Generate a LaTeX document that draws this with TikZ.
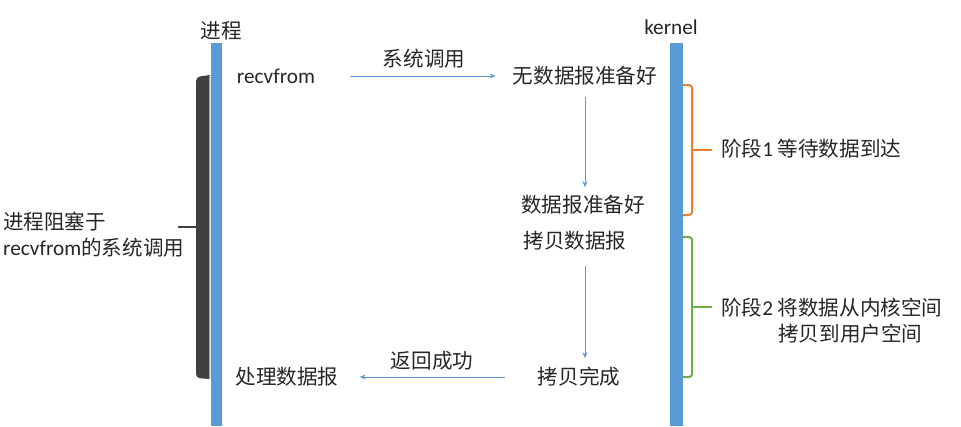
\documentclass[tikz,border=0pt]{standalone}
\usepackage{fontspec}
\setmainfont{Noto Sans CJK SC}
\newfontfamily\lat[Scale=1.03]{Carlito}
\usetikzlibrary{arrows.meta,positioning}
\definecolor{barblue}{HTML}{5B9BD5}
\definecolor{phaseone}{HTML}{ED7D31}
\definecolor{phasetwo}{HTML}{70AD47}
\definecolor{blockgray}{HTML}{404040}

\begin{document}
\begin{tikzpicture}[x=1pt,y=-1pt,
    txt/.style={inner sep=0pt, font=\fontsize{20.6}{26}\selectfont, text=black!85},
    flow/.style={barblue, line width=0.9pt, -{Stealth[length=6pt,width=5pt]}},
    phase/.style={line width=2pt, rounded corners=3pt}]
  \useasboundingbox (0,0) rectangle (961,426);

  % time lines
  \fill[barblue] (211,43) rectangle (222,426);
  \fill[barblue] (670,43) rectangle (683,426);
  \node[txt] (proc) at (221,31) {进程};
  \node[txt] (kern) at (671,27) {\lat kernel};

  % process is blocked
  \fill[blockgray] (210,75) [rounded corners=4pt] -- (196,77) -- (196,378) [sharp corners] -- (210,379) -- cycle;
  \draw[gray!70, line width=0.8pt] (209.6,76) -- (209.6,379);
  \coordinate (tip) at (178,227);
  \draw[blockgray, line width=1.4pt] (tip) -- (197,227);
  \node[txt, align=left, anchor=west] (blocked) at (3,235) {进程阻塞于\\{\lat recvfrom}的系统调用};

  \node[txt] (recv) at (276,76) {\lat recvfrom};
  \node[txt] (nodata) at (585,76) {无数据报准备好};
  \node[txt] (ready) at (583,205) {数据报准备好};
  \node[txt] (copy) at (575,241) {拷贝数据报};
  \node[txt] (done) at (579,377) {拷贝完成};
  \node[txt] (handle) at (287,377) {处理数据报};
  \node[txt] (call) at (424,59) {系统调用};
  \node[txt] (ret) at (432,361) {返回成功};

  \draw[flow, shorten <=35pt, shorten >=17pt] (recv.east) -- (nodata.west);
  \draw[flow, shorten <=11pt, shorten >=8pt] (nodata.south) -- (nodata.south |- ready.north);
  \draw[flow, shorten <=15pt, shorten >=9pt] (nodata.south |- copy.south) -- (nodata.south |- done.north);
  \draw[flow, shorten <=33pt, shorten >=21pt] (done.west) -- (handle.east);

  % the two phases
  \node[txt, anchor=west] (one) at (721,149) {阶段{\lat 1} 等待数据到达};
  \node[txt, anchor=west] (two) at (721,308) {阶段{\lat 2} 将数据从内核空间};
  \node[txt, anchor=west] (twob) at (778,334) {拷贝到用户空间};
  \coordinate (p1) at (692,150);
  \coordinate (p2) at (692,307);
  \draw[phaseone, phase] (683,85) -| (p1) |- (683,215);
  \draw[phaseone, line width=2pt, shorten >=9pt] (p1) -- (p1 -| one.west);
  \draw[phasetwo, phase] (683,237) -| (p2) |- (683,377);
  \draw[phasetwo, line width=2pt, shorten >=9pt] (p2) -- (p2 -| two.west);
\end{tikzpicture}
\end{document}
